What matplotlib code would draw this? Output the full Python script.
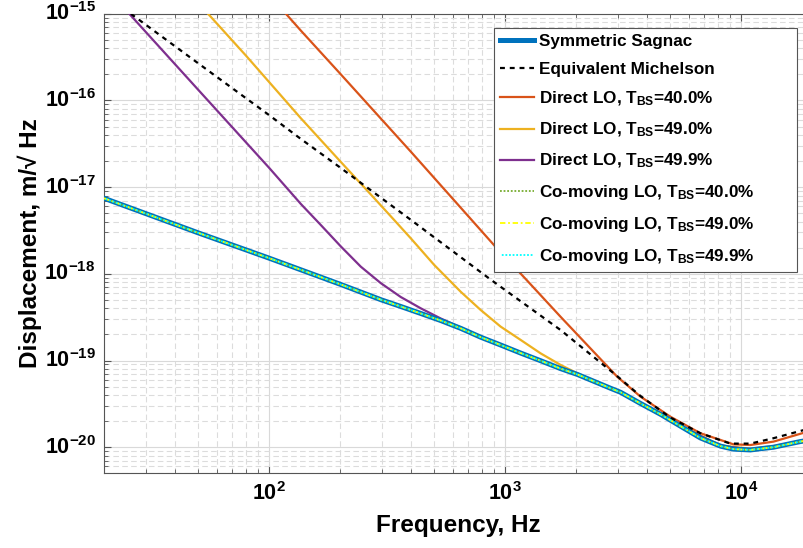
import matplotlib
matplotlib.use("Agg")
import matplotlib.pyplot as plt
from matplotlib.ticker import FuncFormatter, LogLocator, NullFormatter
import numpy as np

# values (Hz, m/sqrt(Hz))
f_sagnac = [20, 50, 100, 200, 300, 362, 440, 535, 650, 789, 959, 1165, 1416, 1720,
            2030, 2800, 3090, 3750, 4560, 5540, 6730, 8180, 9290, 10960, 13740,
            17800, 20000]
d_sagnac = [7.45e-18, 2.98e-18, 1.52e-18, 7.6e-19, 5.0e-19, 4.2e-19, 3.49e-19,
            2.89e-19, 2.35e-19, 1.86e-19, 1.51e-19, 1.22e-19, 9.95e-20, 8.07e-20,
            6.9e-20, 4.79e-20, 4.3e-20, 3.2e-20, 2.4e-20, 1.75e-20, 1.28e-20,
            1.03e-20, 9.5e-21, 9.3e-21, 1.0e-20, 1.16e-20, 1.22e-20]

f_mich = [26, 50, 100, 136.5, 200, 399, 869, 1720, 2990, 3750, 5020, 6730, 9020,
          10960, 13740, 18500, 20000]
d_mich = [1e-15, 2.7e-16, 6.8e-17, 3.6e-17, 1.69e-17, 4.2e-18, 8.6e-19, 2.25e-19,
          6.6e-20, 3.9e-20, 2.2e-20, 1.45e-20, 1.1e-20, 1.1e-20, 1.27e-20, 1.58e-20,
          1.66e-20]

f_lo40 = [118, 136.5, 200, 400, 716, 898, 1225, 1720, 2990, 3750, 5020, 6730, 9290,
          10960, 13740, 18500, 20000]
d_lo40 = [1e-15, 6.4e-16, 2.05e-16, 2.55e-17, 4.3e-18, 2.15e-18, 8.7e-19, 3.2e-19,
          6.5e-20, 3.84e-20, 2.25e-20, 1.45e-20, 1.08e-20, 1.06e-20, 1.16e-20,
          1.47e-20, 1.55e-20]

f_lo49 = [55.2, 80, 136.5, 200, 284, 339, 399, 501, 650, 789, 959, 1165, 1416, 1720,
          2030, 2800, 3750, 5540, 8180, 10960, 13740, 17800, 20000]
d_lo49 = [1e-15, 3.28e-16, 6.24e-17, 2.0e-17, 7.1e-18, 4.19e-18, 2.57e-18, 1.27e-18,
          6.2e-19, 3.83e-19, 2.46e-19, 1.73e-19, 1.21e-19, 8.9e-20, 7.1e-20, 4.85e-20,
          3.25e-20, 1.78e-20, 1.05e-20, 9.6e-21, 1.03e-20, 1.18e-20, 1.24e-20]

f_lo499 = [25.6, 50, 100, 136.5, 166, 202, 245, 298, 362, 440, 535, 650, 789, 959,
           1416, 2030, 2800, 3750, 5540, 8180, 10960, 13740, 17800, 20000]
d_lo499 = [1e-15, 1.34e-16, 1.68e-17, 6.4e-18, 3.65e-18, 2.06e-18, 1.21e-18, 7.8e-19,
           5.4e-19, 4.0e-19, 3.05e-19, 2.4e-19, 1.88e-19, 1.52e-19, 1.0e-19, 6.95e-20,
           4.8e-20, 3.22e-20, 1.76e-20, 1.04e-20, 9.4e-21, 1.01e-20, 1.17e-20, 1.23e-20]

# co-moving LO curves lie on top of the Sagnac curve
d_co40 = d_sagnac
d_co49 = d_sagnac
d_co499 = d_sagnac

y_ticks = [1e-20, 1e-19, 1e-18, 1e-17, 1e-16, 1e-15]
y_tick_labels = [r'$10^{-20}$', r'$10^{-19}$', r'$10^{-18}$', r'$10^{-17}$',
                 r'$10^{-16}$', r'$10^{-15}$']

plt.rcParams['font.family'] = ['Liberation Sans', 'DejaVu Sans']
plt.rcParams['font.weight'] = 'bold'
plt.rcParams['mathtext.fontset'] = 'custom'
plt.rcParams['mathtext.rm'] = 'Liberation Sans:bold'
plt.rcParams['mathtext.it'] = 'Liberation Sans:bold'
plt.rcParams['mathtext.bf'] = 'Liberation Sans:bold'
plt.rcParams['mathtext.sf'] = 'Liberation Sans:bold'

fig = plt.figure(figsize=(8.04, 5.48), dpi=100)
ax = fig.add_axes([104 / 804, (548 - 473.3) / 548, (812 - 104) / 804, (473.3 - 13.8) / 548])

ax.loglog(f_sagnac, d_sagnac, color='#0072BD', lw=3.6, label='Symmetric Sagnac', zorder=4)
ax.loglog(f_mich, d_mich, color='black', ls=(0, (2.2, 2.2)), lw=1.6, label='Equivalent Michelson', zorder=5)
ax.loglog(f_lo40, d_lo40, color='#D95319', lw=1.6, label='Direct LO, T$_{BS}$=40.0%', zorder=3)
ax.loglog(f_lo49, d_lo49, color='#EDB120', lw=1.6, label='Direct LO, T$_{BS}$=49.0%', zorder=3)
ax.loglog(f_lo499, d_lo499, color='#7E2F8E', lw=1.6, label='Direct LO, T$_{BS}$=49.9%', zorder=3)
ax.loglog(f_sagnac, d_co40, color='#77AC30', ls=(0, (1, 1)), lw=1.3, label='Co-moving LO, T$_{BS}$=40.0%', zorder=6)
ax.loglog(f_sagnac, d_co49, color='#FFFF00', ls=(0, (3, 1.5, 1, 1.5)), lw=1.3, label='Co-moving LO, T$_{BS}$=49.0%', zorder=6)
ax.loglog(f_sagnac, d_co499, color='#00FFFF', ls=(1, (1, 1)), lw=1.3, label='Co-moving LO, T$_{BS}$=49.9%', zorder=6)

ax.set_xlim(20, 2e4)
ax.set_ylim(5e-21, 1e-15)

ax.xaxis.set_major_locator(LogLocator(base=10, numticks=10))
ax.xaxis.set_minor_locator(LogLocator(base=10, subs=np.arange(2, 10), numticks=20))
ax.yaxis.set_minor_locator(LogLocator(base=10, subs=np.arange(2, 10), numticks=20))
fmt = FuncFormatter(lambda v, p: r'$10^{%d}$' % int(round(np.log10(v))))
ax.xaxis.set_major_formatter(fmt)
ax.xaxis.set_minor_formatter(NullFormatter())
ax.set_yticks(y_ticks)
ax.set_yticklabels(y_tick_labels, va='center')
ax.yaxis.set_minor_formatter(NullFormatter())
ax.set_ylim(5e-21, 1e-15)

ax.tick_params(which='both', direction='in', top=True, right=True, color='#555555')
ax.tick_params(which='major', length=5, labelsize=15.5, pad=6)
ax.tick_params(which='minor', length=3)
for s in ax.spines.values():
    s.set_color('#555555')
    s.set_linewidth(0.8)

ax.grid(True, which='major', color='#d9d9d9', lw=0.8, ls='-')
ax.grid(True, which='minor', color='#dcdcdc', lw=0.8, ls=(0, (5, 3)))
ax.set_axisbelow(True)

ax.set_xlabel('Frequency, Hz', fontsize=17.5, fontweight='bold', labelpad=7)
ax.set_ylabel('Displacement, m/\u221a Hz', fontsize=17.5, fontweight='bold', labelpad=2)

leg = ax.legend(loc='upper left', mode='expand',
                bbox_to_anchor=(494 / 804, 1 - 272 / 548, 303 / 804, 244 / 548),
                bbox_transform=fig.transFigure, borderaxespad=0, fontsize=12.3,
                handlelength=2.0, handletextpad=0.3, labelspacing=0.75, borderpad=0.35,
                fancybox=False, framealpha=1, edgecolor='#555555')
leg.get_frame().set_linewidth(0.8)
leg.set_zorder(10)

fig.savefig('out.png', dpi=100)
